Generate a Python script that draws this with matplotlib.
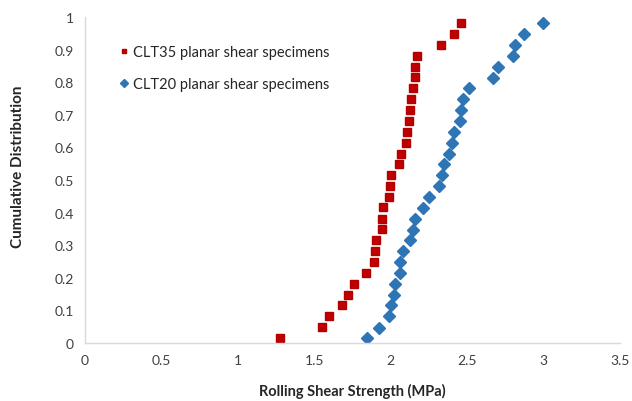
import matplotlib
matplotlib.use("Agg")
import matplotlib.pyplot as plt

clt35_strength = [1.275, 1.549, 1.595, 1.68, 1.719, 1.76, 1.84, 1.893, 1.897, 1.906,
                  1.945, 1.945, 1.952, 1.987, 1.996, 2.003, 2.052, 2.07, 2.10, 2.105,
                  2.118, 2.128, 2.133, 2.146, 2.157, 2.161, 2.17, 2.331, 2.412, 2.46]
clt35_cdf = [0.015, 0.049, 0.083, 0.116, 0.148, 0.181, 0.215, 0.248, 0.282, 0.315,
             0.349, 0.381, 0.416, 0.449, 0.482, 0.515, 0.548, 0.581, 0.614, 0.647,
             0.681, 0.715, 0.748, 0.781, 0.815, 0.848, 0.880, 0.915, 0.947, 0.981]

clt20_strength = [1.845, 1.924, 1.989, 2.0, 2.02, 2.028, 2.063, 2.063, 2.08, 2.126,
                  2.144, 2.161, 2.209, 2.248, 2.314, 2.335, 2.35, 2.381, 2.40, 2.412,
                  2.455, 2.457, 2.475, 2.512, 2.667, 2.70, 2.797, 2.815, 2.871, 2.997]
clt20_cdf = [0.015, 0.047, 0.083, 0.116, 0.147, 0.181, 0.215, 0.247, 0.282, 0.315,
             0.348, 0.380, 0.415, 0.449, 0.481, 0.515, 0.548, 0.581, 0.613, 0.647,
             0.681, 0.715, 0.748, 0.781, 0.814, 0.848, 0.880, 0.914, 0.947, 0.981]

x_ticks = [0, 0.5, 1, 1.5, 2, 2.5, 3, 3.5]
x_tick_labels = ["0", "0.5", "1", "1.5", "2", "2.5", "3", "3.5"]
y_ticks = [0, 0.1, 0.2, 0.3, 0.4, 0.5, 0.6, 0.7, 0.8, 0.9, 1]
y_tick_labels = ["0", "0.1", "0.2", "0.3", "0.4", "0.5", "0.6", "0.7", "0.8", "0.9", "1"]

plt.rcParams['font.family'] = ['Lato', 'DejaVu Sans']

fig = plt.figure(figsize=(6.32, 4.02), dpi=100)
ax = fig.add_axes([0.1345, 0.1443, 0.8465, 0.8107])

ax.plot(clt35_strength, clt35_cdf, linestyle='none', marker='s', markersize=5.2,
        color='#C00000', markeredgecolor='#B00000', label='CLT35 planar shear specimens')
ax.plot(clt20_strength, clt20_cdf, linestyle='none', marker='D', markersize=6.5,
        color='#2E75B6', markeredgecolor='#2E75B6', label='CLT20 planar shear specimens')

ax.set_xlim(0, 3.5)
ax.set_ylim(0, 1)
ax.set_xticks(x_ticks)
ax.set_xticklabels(x_tick_labels)
ax.set_yticks(y_ticks)
ax.set_yticklabels(y_tick_labels)
ax.tick_params(axis='both', length=0, labelsize=10, labelcolor='#404040', pad=8)

for s in ['top', 'right']:
    ax.spines[s].set_visible(False)
for s in ['left', 'bottom']:
    ax.spines[s].set_color('#D9D9D9')
    ax.spines[s].set_linewidth(1)

ax.set_xlabel('Rolling Shear Strength (MPa)', fontsize=10.5, fontweight='bold',
              color='#262626', labelpad=12)
ax.set_ylabel('Cumulative Distribution', fontsize=11, fontweight='bold',
              color='#262626')
ax.yaxis.set_label_coords(-0.112, 0.543)

leg = ax.legend(loc='upper left', bbox_to_anchor=(0.04, 0.955), frameon=False,
                fontsize=10.5, labelspacing=1.25, handlelength=0.6, handletextpad=0.3,
                markerscale=0.65)
for t in leg.get_texts():
    t.set_color('#262626')

fig.savefig('out.png', dpi=100)
